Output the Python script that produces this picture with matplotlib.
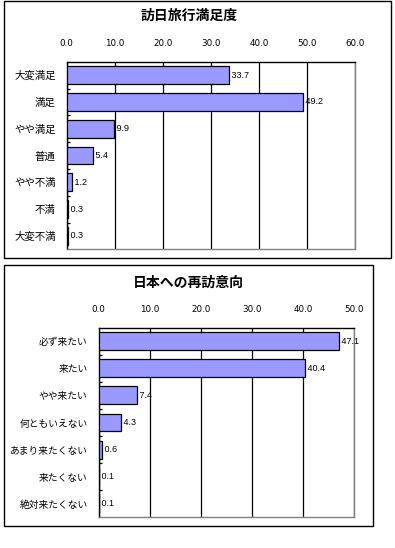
import matplotlib
matplotlib.use("Agg")
import matplotlib.pyplot as plt
from matplotlib.patches import Rectangle
from matplotlib.ticker import FixedLocator

plt.rcParams['font.family'] = ['Noto Sans CJK JP', 'DejaVu Sans']

title1 = "訪日旅行満足度"
cats1 = ["大変満足", "満足", "やや満足", "普通", "やや不満", "不満", "大変不満"]
vals1 = [33.7, 49.2, 9.9, 5.4, 1.2, 0.3, 0.3]
xticks1 = [0, 10, 20, 30, 40, 50, 60]

title2 = "日本への再訪意向"
cats2 = ["必ず来たい", "来たい", "やや来たい", "何ともいえない", "あまり来たくない", "来たくない", "絶対来たくない"]
vals2 = [47.1, 40.4, 7.4, 4.3, 0.6, 0.1, 0.1]
xticks2 = [0, 10, 20, 30, 40, 50]

W, H = 395, 548
fig = plt.figure(figsize=(W / 100, H / 100), dpi=100)

def px_rect(x0, y0, x1, y1):
    return [x0 / W, 1 - y1 / H, (x1 - x0) / W, (y1 - y0) / H]

# outer boxes
for (x0, y0, x1, y1) in [(3.5, 0.5, 391, 258), (3.5, 265, 372.5, 526)]:
    fig.patches.append(Rectangle((x0 / W, 1 - y1 / H), (x1 - x0) / W, (y1 - y0) / H,
                                 transform=fig.transFigure, fill=False,
                                 edgecolor='black', linewidth=1.0))

def panel(rect, title, title_xy, cats, vals, xticks, catsize):
    ax = fig.add_axes(px_rect(*rect))
    n = len(cats)
    y = list(range(n))
    ax.barh(y, vals, height=0.66, color='#9999FF', edgecolor='black',
            linewidth=0.9, zorder=3)
    ax.set_xlim(xticks[0], xticks[-1])
    ax.set_ylim(n - 0.5, -0.5)
    ax.xaxis.set_ticks_position('top')
    ax.set_xticks(xticks)
    ax.set_xticklabels([f"{t:.1f}" for t in xticks], fontsize=6.3,
                       family=['DejaVu Sans'])
    ax.tick_params(axis='x', length=0, pad=10)
    ax.grid(axis='x', color='black', linewidth=0.9, zorder=1)
    ax.set_yticks(y)
    ax.set_yticklabels(cats, fontsize=catsize)
    ax.tick_params(axis='y', which='major', length=0, pad=8)
    ax.yaxis.set_minor_locator(FixedLocator([i + 0.5 for i in range(n - 1)]))
    ax.tick_params(axis='y', which='minor', direction='in', length=2.5,
                   width=0.9, color='black', left=True)
    for s in ['left', 'top']:
        ax.spines[s].set_color('black')
        ax.spines[s].set_linewidth(1.0)
    for s in ['right', 'bottom']:
        ax.spines[s].set_color('#808080')
        ax.spines[s].set_linewidth(1.0)
    for yi, v in zip(y, vals):
        ax.text(v, yi, f" {v:.1f}", va='center', ha='left', fontsize=6.5,
                family=['Liberation Sans'], zorder=4)
    fig.text(title_xy[0] / W, 1 - title_xy[1] / H, title, ha='center',
             va='center', fontsize=10, fontweight='bold')
    return ax

panel((66.7, 61.7, 355.3, 249.3), title1, (189, 16), cats1, vals1, xticks1, 7.5)
panel((98.7, 327.7, 354.3, 517.3), title2, (188, 283), cats2, vals2, xticks2, 7)

fig.savefig("out.png", dpi=100)
